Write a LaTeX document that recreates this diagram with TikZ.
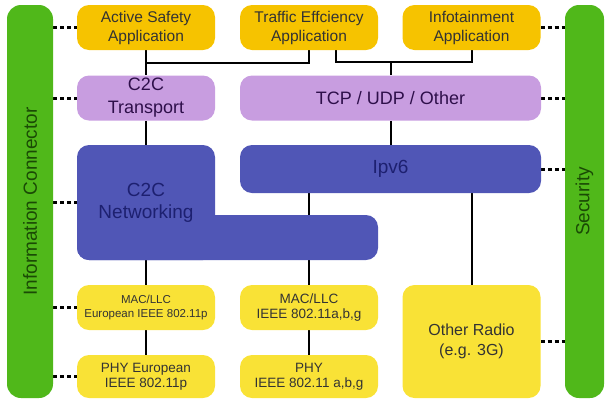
\documentclass[tikz,border=0pt]{standalone}
\usepackage{fontspec}
\setmainfont{Liberation Sans}
\usetikzlibrary{positioning,backgrounds}
\definecolor{appfill}{HTML}{F6C300}
\definecolor{phyfill}{HTML}{F9E236}
\definecolor{lilac}{HTML}{C89DE0}
\definecolor{lilactext}{HTML}{2E0F4A}
\definecolor{netblue}{HTML}{5056B6}
\definecolor{nettext}{HTML}{1D2070}
\definecolor{bargreen}{HTML}{50B81A}
\definecolor{bartext}{HTML}{1A4A05}

\begin{document}
\begin{tikzpicture}[
  x=1pt, y=-1pt,
  bx/.style   ={rounded corners=12pt, align=center, inner sep=0pt,
                minimum width=138pt, minimum height=45pt},
  app/.style  ={bx, fill=appfill, text=black!80, font=\fontsize{15.5}{19}\selectfont},
  trans/.style={bx, fill=lilac, text=lilactext, font=\fontsize{18}{23}\selectfont},
  net/.style  ={bx, fill=netblue, text=nettext, font=\fontsize{19}{22}\selectfont},
  phy/.style  ={bx, fill=phyfill, text=black!80, font=\fontsize{13.5}{15}\selectfont},
  bar/.style  ={rounded corners=14pt, fill=bargreen, text=bartext, inner sep=0pt,
                minimum width=393pt, rotate=90, font=\fontsize{19}{22}\selectfont},
  ln/.style   ={line width=2pt, draw=black},
  dsh/.style  ={line width=3pt, draw=black, dash pattern=on 4pt off 3pt},
]
\useasboundingbox (0,0) rectangle (605,400);

% ---- side bars ----
\node[bar, minimum height=46pt] (icon) at ( 30.0,201.5) {Information Connector};
\node[bar, minimum height=39pt] (sec)  at (584.5,201.5) {Security};

% ---- applications ----
\node[app] (ase)  at (146.0,27.5) {Active Safety\\Application};
\node[app] (tre)  at (309.0,27.5) {Traffic Effciency\\Application};
\node[app] (info) at (471.5,27.5) {Infotainment\\Application};

% ---- transport ----
\node[trans]                    (c2ct) at (146.0,98) {C2C\\Transport};
\node[trans, minimum width=301pt] (tcp)  at (390.5,98) {TCP / UDP / Other};

% ---- networking ----
\node[net, minimum width=301pt]                      (netb) at (227.5,237.5) {};
\node[net, minimum height=115pt]                     (neta) at (146.0,202.5) {C2C\\Networking};
\node[net, minimum width=301pt, minimum height=48pt] (ipv6) at (390.5,169.0) {Ipv6};

% ---- MAC / PHY ----
\node[phy, font=\fontsize{11.5}{14}\selectfont] (mac1) at (146.0,307.5) {MAC/LLC\\European IEEE 802.11p};
\node[phy]                        (mac2) at (309.0,307.5) {MAC/LLC\\IEEE 802.11a,b,g};
\node[phy, minimum height=43pt]   (phy1) at (146.0,376.5) {PHY European\\IEEE 802.11p};
\node[phy, minimum height=43pt]   (phy2) at (309.0,376.5) {PHY\\IEEE 802.11 a,b,g};
\node[phy, minimum height=113pt, font=\fontsize{16}{20}\selectfont]
                                  (radio) at (471.5,341.5) {Other Radio\\(e.g. 3G)};

% ---- edges ----
\begin{scope}[on background layer]
  \coordinate (jl) at (146.0,63);
  \coordinate (jr) at (390.5,62);
  \draw[ln] (ase) -- (c2ct);
  \draw[ln] (tre.south) |- (jl);
  \draw[ln] ([xshift=27pt]tre.south) |- (jr) -| (info.south);
  \draw[ln] (jr) -- (tcp.north);
  \draw[ln] (tcp) -- (ipv6);
  \draw[ln] (c2ct) -- (neta);
  \draw[ln] (neta) -- (mac1);
  \draw[ln] (mac1) -- (phy1);
  \draw[ln] (ipv6.south -| mac2.north) -- (mac2.north);
  \draw[ln] (mac2) -- (phy2);
  \draw[ln] (ipv6.south -| radio.north) -- (radio.north);
  % dashed links to the side bars
  \draw[dsh] (ase.west -| icon.south)  -- (ase.west);
  \draw[dsh] (c2ct.west -| icon.south) -- (c2ct.west);
  \draw[dsh] (neta.west -| icon.south) -- (neta.west);
  \draw[dsh] (mac1.west -| icon.south) -- (mac1.west);
  \draw[dsh] (phy1.west -| icon.south) -- (phy1.west);
  \draw[dsh] (info.east)  -- (info.east -| sec.north);
  \draw[dsh] (tcp.east)   -- (tcp.east -| sec.north);
  \draw[dsh] (ipv6.east)  -- (ipv6.east -| sec.north);
  \draw[dsh] (radio.east) -- (radio.east -| sec.north);
\end{scope}
\end{tikzpicture}
\end{document}
